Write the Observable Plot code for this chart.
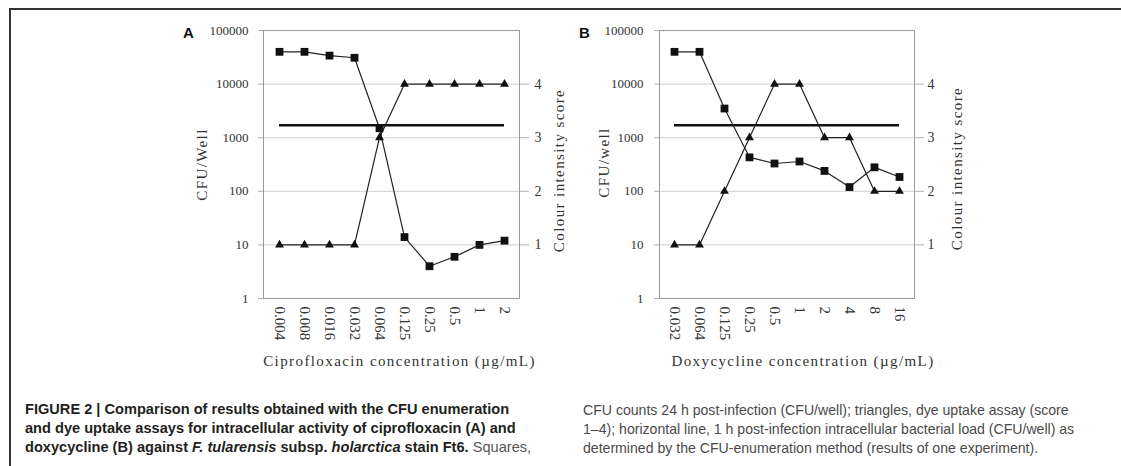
<!DOCTYPE html>
<html><head><meta charset="utf-8">
<script src="https://cdn.jsdelivr.net/npm/d3@7"></script>
<script src="https://cdn.jsdelivr.net/npm/@observablehq/plot@0.6"></script>
<style>
body{margin:0;background:#fff;}
#page{position:relative;width:1121px;height:466px;overflow:hidden;background:#fff;}
#frame{position:absolute;z-index:5;left:9px;top:8px;width:1130px;height:470px;border-top:2px solid #333;border-left:2px solid #333;pointer-events:none;}
#pa{position:absolute;left:0;top:0;}
#pb{position:absolute;left:575px;top:0;}
.cap{position:absolute;font-family:"Liberation Sans Narrow","Liberation Sans",Arial,sans-serif;font-size:14px;line-height:19px;white-space:nowrap;}
#capL{left:25px;top:400px;color:#231f20;font-weight:bold;font-size:14.6px;}
#capL .n{font-weight:normal;color:#555;}
#capR{left:583px;top:401px;color:#4a4a4a;font-size:14.1px;}
</style></head>
<body><div id="page"><div id="frame"></div><div id="pa"></div><div id="pb"></div>
<div id="capL" class="cap">FIGURE 2 | Comparison of results obtained with the CFU enumeration<br>and dye uptake assays for intracellular activity of ciprofloxacin (A) and<br>doxycycline (B) against <i>F. tularensis</i> subsp. <i>holarctica</i> stain Ft6. <span class="n">Squares,</span></div>
<div id="capR" class="cap">CFU counts 24 h post-infection (CFU/well); triangles, dye uptake assay (score<br>1–4); horizontal line, 1 h post-infection intracellular bacterial load (CFU/well) as<br>determined by the CFU-enumeration method (results of one experiment).</div>
</div>
<script>
// Panel A: ciprofloxacin
const concA = ["0.004","0.008","0.016","0.032","0.064","0.125","0.25","0.5","1","2"];
const cfuA = [40000, 40000, 34000, 31000, 1500, 14, 4, 6, 10, 12];
const scoreA = [1, 1, 1, 1, 3, 4, 4, 4, 4, 4];
const baselineA = 1700;
// Panel B: doxycycline
const concB = ["0.032","0.064","0.125","0.25","0.5","1","2","4","8","16"];
const cfuB = [40000, 40000, 3500, 430, 330, 360, 240, 120, 280, 185];
const scoreB = [1, 1, 2, 3, 4, 4, 3, 3, 2, 2];
const baselineB = 1700;
// axis ticks
const cfuTicks = [1, 10, 100, 1000, 10000, 100000];
const scoreTicks = [1, 2, 3, 4];

const serif = "'Liberation Serif','Times New Roman',serif";

function panel(o) {
  const H = 372;
  const cfuRows = o.conc.map((c, i) => ({c, v: o.cfu[i]}));
  // score s is drawn on the shared log axis at 10^s (dual axis: 1 -> 10, 4 -> 10000)
  const scoreRows = o.conc.map((c, i) => ({c, v: 10 ** o.score[i]}));
  const last = o.conc.length - 1;
  const tf = {fontFamily: serif, fontSize: 13, fill: "#333"};
  const ttl = {fontFamily: serif, fontSize: 15, fill: "#333", textAnchor: "middle", lineAnchor: "middle"};
  const svg = Plot.plot({
    width: o.width, height: H,
    marginLeft: o.ml, marginRight: o.mr, marginTop: 30, marginBottom: H - 298,
    style: {fontFamily: serif, fontSize: "13px", color: "#333", background: "transparent"},
    x: {type: "point", domain: o.conc, padding: 0.5},
    y: {type: "log", domain: [1, 100000]},
    marks: [
      Plot.gridY({ticks: cfuTicks, stroke: "#cfcfcf", strokeOpacity: 1}),
      Plot.frame({stroke: "#9a9a9a"}),
      Plot.axisY({anchor: "left", ticks: cfuTicks, tickSize: 5, tickPadding: o.padL, stroke: "#b0b0b0", tickFormat: d => String(d), label: null, ...tf}),
      Plot.axisY({anchor: "right", ticks: scoreTicks.map(s => 10 ** s), tickSize: 9, tickPadding: o.padR, stroke: "#b0b0b0", tickFormat: d => String(Math.round(Math.log10(d))), label: null, ...tf, fontSize: 14}),
      Plot.axisX({anchor: "bottom", tickSize: 0, tickPadding: 8, tickRotate: 90, label: null, ...tf, fontSize: 15}),
      Plot.ruleY([o.baseline], {x1: () => o.conc[0], x2: () => o.conc[last], stroke: "#111", strokeWidth: 2.5}),
      Plot.line(cfuRows, {x: "c", y: "v", stroke: "#222", strokeWidth: 1.2}),
      Plot.line(scoreRows, {x: "c", y: "v", stroke: "#222", strokeWidth: 1.2}),
      Plot.dot(cfuRows, {x: "c", y: "v", symbol: "square", r: 4.4, fill: "#111", stroke: "none"}),
      Plot.dot(scoreRows, {x: "c", y: "v", symbol: "triangle", r: 3.3, fill: "#111", stroke: "none"}),
      Plot.text([o.ylabel], {frameAnchor: "left", rotate: -90, dx: o.dxL, dy: o.dyL, ...ttl}),
      Plot.text(["Colour intensity score"], {frameAnchor: "right", rotate: -90, dx: o.dxR, dy: o.dyR, ...ttl}),
      Plot.text([o.xlabel], {frameAnchor: "bottom", dx: o.dxX, dy: 63, ...ttl}),
      Plot.text([o.letter], {frameAnchor: "top-left", dx: -75, dy: 3, fontSize: 15, fontWeight: "bold", fontFamily: "'Liberation Sans',Arial,sans-serif", fill: "#111", textAnchor: "middle", lineAnchor: "middle"})
    ]
  });
  const titles = [o.ylabel, o.xlabel, "Colour intensity score"];
  d3.select(svg).selectAll("text").filter(function() { return titles.includes(this.textContent); }).attr("letter-spacing", "1.4");
  return svg;
}

document.getElementById("pa").append(panel({
  conc: concA, cfu: cfuA, score: scoreA, baseline: baselineA, letter: "A",
  ylabel: "CFU/Well", xlabel: "Ciprofloxacin concentration (µg/mL)",
  width: 575, ml: 263, mr: 56, padL: 10, padR: 6, dxL: -61, dyL: 0, dxR: 40, dyR: 6, dxX: 8
}));
document.getElementById("pb").append(panel({
  conc: concB, cfu: cfuB, score: scoreB, baseline: baselineB, letter: "B",
  ylabel: "CFU/well", xlabel: "Doxycycline concentration (µg/mL)",
  width: 546, ml: 84, mr: 207, padL: 11, padR: 4, dxL: -55, dyL: -2, dxR: 43, dyR: 4, dxX: 16
}));
</script>
</body></html>
